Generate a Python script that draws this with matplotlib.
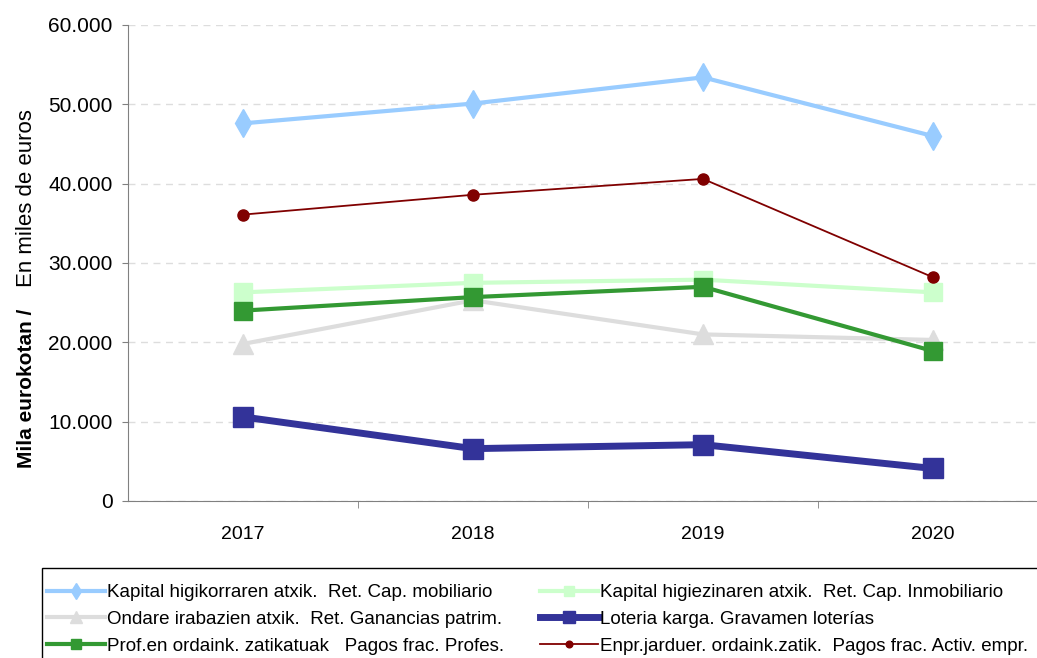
import matplotlib
matplotlib.use("Agg")
import matplotlib.pyplot as plt
from matplotlib.patches import Rectangle
from matplotlib.ticker import FuncFormatter, FixedLocator

plt.rcParams["font.family"] = ["Liberation Sans", "DejaVu Sans"]

years = ["2017", "2018", "2019", "2020"]

cap_mobiliario = [47600, 50100, 53400, 46000]
cap_inmobiliario = [26300, 27500, 27900, 26300]
ganancias_patrim = [19800, 25300, 21000, 20300]
gravamen_loterias = [10600, 6600, 7100, 4100]
pagos_profes = [24000, 25700, 27000, 18900]
pagos_activ = [36100, 38600, 40600, 28200]

labels = [
    "Kapital higikorraren atxik.  Ret. Cap. mobiliario",
    "Kapital higiezinaren atxik.  Ret. Cap. Inmobiliario",
    "Ondare irabazien atxik.  Ret. Ganancias patrim.",
    "Loteria karga. Gravamen loterías",
    "Prof.en ordaink. zatikatuak   Pagos frac. Profes.",
    "Enpr.jarduer. ordaink.zatik.  Pagos frac. Activ. empr.",
]

W, H = 1037, 658
fig = plt.figure(figsize=(W/100, H/100), dpi=100)
ax = fig.add_axes([128/W, 1-501/H, 920/W, 476/H])

x = range(len(years))
# order as in the legend
ax.plot(x, cap_mobiliario, color="#99CCFF", lw=3, marker="d", ms=14, label=labels[0])
ax.plot(x, cap_inmobiliario, color="#CCFFCC", lw=3, marker="s", ms=13, label=labels[1])
ax.plot(x, ganancias_patrim, color="#DDDDDD", lw=3, marker="^", ms=14, label=labels[2])
ax.plot(x, gravamen_loterias, color="#333399", lw=5, marker="s", ms=14, label=labels[3])
ax.plot(x, pagos_profes, color="#339933", lw=3, marker="s", ms=13, label=labels[4])
ax.plot(x, pagos_activ, color="#800000", lw=1.3, marker="o", ms=8, label=labels[5])

ax.set_xlim(-0.5, 3.5)
ax.set_ylim(0, 60000)
ax.set_yticks(range(0, 60001, 10000))
ax.yaxis.set_major_formatter(FuncFormatter(lambda v, p: f"{int(v):,}".replace(",", ".")))
ax.set_xticks(list(x))
ax.set_xticklabels(years)
ax.xaxis.set_minor_locator(FixedLocator([0.5, 1.5, 2.5]))
ax.tick_params(axis="x", which="major", length=0, pad=18, labelsize=14)
ax.tick_params(axis="x", which="minor", length=5, color="#808080")
ax.tick_params(axis="y", length=4, color="#808080", pad=7, labelsize=15)

ax.grid(axis="y", color="#DDDDDD", linestyle=(0, (5, 4)), lw=1)
ax.set_axisbelow(True)
for s in ["top", "right"]:
    ax.spines[s].set_visible(False)
for s in ["left", "bottom"]:
    ax.spines[s].set_color("#808080")

fig.text(27/W, 1-468/H, "Mila eurokotan /", rotation=90, rotation_mode="anchor",
         ha="left", va="center", fontsize=15, fontweight="bold")
fig.text(27/W, 1-287/H, "En miles de euros", rotation=90, rotation_mode="anchor",
         ha="left", va="center", fontsize=16)

# legend box runs off the right and bottom edge in the original
fig.patches.append(Rectangle((42/W, 1-668/H), 1000/W, 100/H, transform=fig.transFigure,
                             fill=False, ec="black", lw=1))

# legend is filled row by row in the original
h, l = ax.get_legend_handles_labels()
order = [0, 2, 4, 1, 3, 5]
leg = fig.legend([h[i] for i in order], [l[i] for i in order],
                 loc="upper left", bbox_to_anchor=(47/W, 1-584/H), ncol=2,
                 fontsize=13.5, frameon=False,
                 handlelength=3.1, handletextpad=0.1, columnspacing=1.9,
                 borderpad=0, labelspacing=0.52, borderaxespad=0, markerscale=0.6)

fig.savefig("out.png", dpi=100)
